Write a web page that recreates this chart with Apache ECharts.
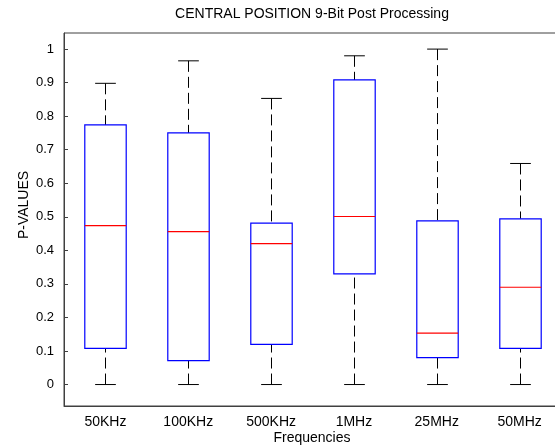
<!DOCTYPE html>
<html>
<head>
    <meta charset="UTF-8">
    <title></title>
    <script type="text/javascript" src="https://cdn.jsdelivr.net/npm/echarts@6/dist/echarts.min.js"></script>
    <style>
        html, body { margin: 0; padding: 0; background: #fff; }
    </style>
</head>
<body>
<div id="box" style="width: 555px;height:445px;"></div>
<script>
    // values
    var categories = ['50KHz', '100KHz', '500KHz', '1MHz', '25MHz', '50MHz'];
    var lowWhisker = [0, 0, 0, 0, 0, 0];
    var q1 = [0.108, 0.071, 0.120, 0.330, 0.080, 0.108];
    var medians = [0.474, 0.456, 0.420, 0.501, 0.153, 0.290];
    var q3 = [0.774, 0.750, 0.481, 0.908, 0.488, 0.494];
    var highWhisker = [0.898, 0.965, 0.853, 0.980, 1.000, 0.659];

    var font = '"Liberation Sans", Arial, sans-serif';

    var rows = [];
    for (var i = 0; i < categories.length; i++) {
        rows.push([i, lowWhisker[i], q1[i], medians[i], q3[i], highWhisker[i]]);
    }

    function drawBox(params, api) {
        var c = api.value(0);
        var band = api.size([1, 0])[0];
        var half = band * 0.25;
        var cap = band * 0.125;
        var pLow = api.coord([c, api.value(1)]);
        var pQ1 = api.coord([c, api.value(2)]);
        var pMed = api.coord([c, api.value(3)]);
        var pQ3 = api.coord([c, api.value(4)]);
        var pHigh = api.coord([c, api.value(5)]);
        var x = Math.round(pMed[0]) + 0.5;
        var dash = {stroke: '#000', lineWidth: 1, lineDash: [11, 5]};
        var solid = {stroke: '#000', lineWidth: 1};
        return {
            type: 'group',
            children: [
                {type: 'line', shape: {x1: x, y1: pHigh[1], x2: x, y2: pQ3[1]}, style: dash},
                {type: 'line', shape: {x1: x, y1: pLow[1], x2: x, y2: pQ1[1]}, style: dash},
                {type: 'line', shape: {x1: x - cap, y1: pHigh[1], x2: x + cap, y2: pHigh[1]}, style: solid},
                {type: 'line', shape: {x1: x - cap, y1: pLow[1], x2: x + cap, y2: pLow[1]}, style: solid},
                {
                    type: 'rect',
                    shape: {x: x - half, y: pQ3[1], width: half * 2, height: pQ1[1] - pQ3[1]},
                    style: {fill: '#fff', stroke: '#0000ff', lineWidth: 1.2}
                },
                {type: 'line', shape: {x1: x - half, y1: pMed[1], x2: x + half, y2: pMed[1]},
                    style: {stroke: '#ff0000', lineWidth: 1.2}}
            ]
        };
    }

    var myChart = echarts.init(document.getElementById('box'));
    myChart.setOption({
        animation: false,
        backgroundColor: '#fff',
        grid: {
            left: 64,
            top: 33,
            width: 497,
            bottom: 39,
            outerBoundsMode: 'none',
            show: true,
            borderColor: '#404040',
            borderWidth: 1
        },
        graphic: [
            {
                type: 'text', x: 312, y: 7,
                style: {text: 'CENTRAL POSITION 9-Bit Post Processing', font: '14px ' + font, fill: '#000', align: 'center'}
            },
            {
                type: 'text', x: 312, y: 431,
                style: {text: 'Frequencies', font: '14px ' + font, fill: '#000', align: 'center'}
            },
            {
                type: 'text', x: 17, y: 205, rotation: Math.PI / 2,
                style: {text: 'P-VALUES', font: '14px ' + font, fill: '#000', align: 'center', verticalAlign: 'top'}
            }
        ],
        xAxis: {
            type: 'category',
            data: categories,
            axisLine: {onZero: false, lineStyle: {color: '#404040'}},
            axisTick: {show: false},
            axisLabel: {color: '#000', fontSize: 14, fontFamily: font, margin: 9},
            splitLine: {show: false}
        },
        yAxis: {
            type: 'value',
            min: -0.064,
            max: 1.048,
            splitNumber: 11,
            axisLine: {show: true, lineStyle: {color: '#404040'}},
            axisTick: {show: true, inside: true, length: 4, lineStyle: {color: '#404040'}},
            splitLine: {show: false},
            axisLabel: {
                color: '#000', fontSize: 13, fontFamily: font, margin: 10,
                showMinLabel: false, showMaxLabel: false,
                formatter: function (v) {
                    if (v < -1e-6 || v > 1 + 1e-6) return '';
                    if (Math.abs(v * 10 - Math.round(v * 10)) > 1e-6) return '';
                    return String(Number(v.toFixed(1)));
                }
            }
        },
        series: [{
            type: 'custom',
            renderItem: drawBox,
            encode: {x: 0, y: [1, 2, 3, 4, 5]},
            data: rows
        }]
    });
</script>
</body>
</html>
